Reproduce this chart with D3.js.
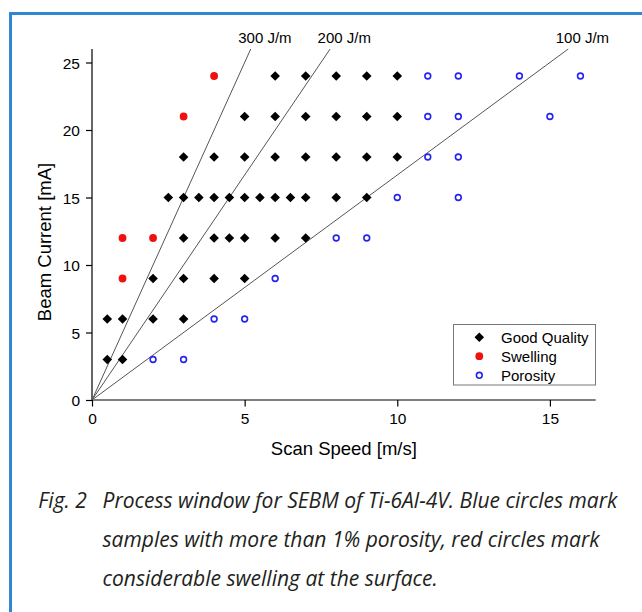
<!DOCTYPE html>
<html>
<head>
<meta charset="utf-8">
<script src="https://cdn.jsdelivr.net/npm/d3@7"></script>
<style>
  html, body { margin: 0; padding: 0; background: #fff; }
  svg { display: block; }
</style>
</head>
<body>
<svg id="chart" width="642" height="612"></svg>
<script>
// ---- data ----
const goodSpeed   = [0.5, 1, 0.5, 1, 2, 3, 2, 3, 4, 5, 3, 4, 4.5, 5, 6, 7,
                     2.5, 3, 3.5, 4, 4.5, 5, 5.5, 6, 6.5, 7, 8, 9,
                     3, 4, 5, 6, 7, 8, 9, 10, 5, 6, 7, 8, 9, 10, 6, 7, 8, 9, 10];
const goodCurrent = [3, 3, 6, 6, 6, 6, 9, 9, 9, 9, 12, 12, 12, 12, 12, 12,
                     15, 15, 15, 15, 15, 15, 15, 15, 15, 15, 15, 15,
                     18, 18, 18, 18, 18, 18, 18, 18, 21, 21, 21, 21, 21, 21, 24, 24, 24, 24, 24];
const swellSpeed   = [1, 1, 2, 3, 4];
const swellCurrent = [9, 12, 12, 21, 24];
const poroSpeed   = [2, 3, 4, 5, 6, 8, 9, 10, 12, 11, 12, 11, 12, 15, 11, 12, 14, 16];
const poroCurrent = [3, 3, 6, 6, 9, 12, 12, 15, 15, 18, 18, 21, 21, 21, 24, 24, 24, 24];
const lineEnergies = [300, 200, 100];          // J/m
const lineLabels   = ["300 J/m", "200 J/m", "100 J/m"];
const beamVoltageKV = 60;                       // I[mA] = E * v / U
const xMajorTicks = [0, 5, 10, 15];
const yMajorTicks = [0, 5, 10, 15, 20, 25];
const xDomain = [0, 16.5];
const yDomain = [0, 26];
const legendLabels = ["Good Quality", "Swelling", "Porosity"];
const captionLines = [
  "Process window for SEBM of Ti-6Al-4V. Blue circles mark",
  "samples with more than 1% porosity, red circles mark",
  "considerable swelling at the surface."
];
const captionTag = "Fig. 2";

// ---- layout ----
const svg = d3.select("#chart");
const FONT = "'Liberation Sans', Arial, Helvetica, sans-serif";
const x = d3.scaleLinear().domain(xDomain).range([92, 595.7]);
const y = d3.scaleLinear().domain(yDomain).range([400, 49]);

// frame
svg.append("rect")
  .attr("x", 10.5).attr("y", 13.5).attr("width", 800).attr("height", 800)
  .attr("fill", "none").attr("stroke", "#3088d4").attr("stroke-width", 3);

// axes
const gx = svg.append("g").attr("transform", `translate(0,${y(0)})`);
gx.call(d3.axisBottom(x).tickValues(d3.range(0, 17, 1)).tickSize(4).tickFormat(""))
  .call(g => g.select(".domain").remove());
gx.call(d3.axisBottom(x).tickValues(xMajorTicks).tickSize(6.5).tickPadding(6).tickFormat(d3.format("d")));
const gy = svg.append("g").attr("transform", `translate(${x(0)},0)`);
gy.call(d3.axisLeft(y).tickValues(d3.range(0, 27, 1)).tickSize(3.5).tickFormat(""))
  .call(g => g.select(".domain").remove());
gy.call(d3.axisLeft(y).tickValues(yMajorTicks).tickSize(6).tickPadding(6).tickFormat(d3.format("d")));
svg.selectAll(".tick line, .domain").attr("stroke", "#000").attr("stroke-width", 1.2);
gx.attr("font-family", FONT).attr("font-size", 15.5);
gy.attr("font-family", FONT).attr("font-size", 15.5);
gx.selectAll("text").attr("fill", "#000");
gy.selectAll("text").attr("fill", "#000").attr("dy", "0.36em");
gx.select(".domain").attr("d", `M${x(xDomain[0])},0H${x(xDomain[1])}`);
gy.select(".domain").attr("d", `M0,${y(yDomain[0])}V${y(yDomain[1])}`);

// axis titles
svg.append("text").attr("x", (x(xDomain[0]) + x(xDomain[1])) / 2).attr("y", 455)
  .attr("text-anchor", "middle").attr("font-family", FONT).attr("font-size", 18.5)
  .attr("fill", "#000").text("Scan Speed [m/s]");
svg.append("text").attr("transform", "translate(51,242) rotate(-90)")
  .attr("text-anchor", "middle").attr("font-family", FONT).attr("font-size", 18.5)
  .attr("fill", "#000").text("Beam Current [mA]");

// energy lines
lineEnergies.forEach((E, i) => {
  const slope = E / beamVoltageKV;           // mA per (m/s)
  let vEnd = yDomain[1] / slope, iEnd = yDomain[1];
  if (vEnd > xDomain[1]) { vEnd = xDomain[1]; iEnd = slope * vEnd; }
  svg.append("line")
    .attr("x1", x(0)).attr("y1", y(0)).attr("x2", x(vEnd)).attr("y2", y(iEnd))
    .attr("stroke", "#555").attr("stroke-width", 1);
  svg.append("text").attr("x", x(vEnd) - 12.5).attr("y", 42.7)
    .attr("font-family", FONT).attr("font-size", 15).attr("fill", "#000")
    .text(lineLabels[i]);
});

// markers
const diamond = "M0,-4.8L4.8,0L0,4.8L-4.8,0Z";
const gGood = svg.append("g");
goodSpeed.forEach((v, i) => {
  gGood.append("path").attr("d", diamond)
    .attr("transform", `translate(${x(v)},${y(goodCurrent[i])})`).attr("fill", "#000");
});
swellSpeed.forEach((v, i) => {
  svg.append("circle").attr("cx", x(v)).attr("cy", y(swellCurrent[i])).attr("r", 3.9)
    .attr("fill", "#f01010");
});
poroSpeed.forEach((v, i) => {
  svg.append("circle").attr("cx", x(v)).attr("cy", y(poroCurrent[i])).attr("r", 2.9)
    .attr("fill", "none").attr("stroke", "#2424f0").attr("stroke-width", 1.6);
});

// legend
const lg = svg.append("g");
lg.append("rect").attr("x", 453.5).attr("y", 324.5).attr("width", 142).attr("height", 60.5)
  .attr("fill", "#fff").attr("stroke", "#777").attr("stroke-width", 1);
const rowsY = [337.3, 356.2, 375.3];
lg.append("path").attr("d", diamond).attr("transform", `translate(479.3,${rowsY[0]})`).attr("fill", "#000");
lg.append("circle").attr("cx", 479.3).attr("cy", rowsY[1]).attr("r", 3.9).attr("fill", "#f01010");
lg.append("circle").attr("cx", 479.3).attr("cy", rowsY[2]).attr("r", 2.9)
  .attr("fill", "none").attr("stroke", "#2424f0").attr("stroke-width", 1.6);
legendLabels.forEach((t, i) => {
  lg.append("text").attr("x", 501).attr("y", rowsY[i] + 5.3)
    .attr("font-family", FONT).attr("font-size", 15).attr("fill", "#000").text(t);
});

// caption
const CAP_FONT = "'Open Sans', 'Noto Sans', sans-serif";
const capBase = [508, 547, 586];
const tag = svg.append("text").attr("x", 38.3).attr("y", capBase[0])
  .attr("font-family", CAP_FONT).attr("font-style", "italic").attr("font-size", 20)
  .attr("fill", "#231f20").text(captionTag);
const capTexts = captionLines.map((t, i) =>
  svg.append("text").attr("x", 102.5).attr("y", capBase[i])
    .attr("font-family", CAP_FONT).attr("font-style", "italic").attr("font-size", 20)
    .attr("fill", "#231f20").text(t));
const w0 = capTexts[0].node().getComputedTextLength();
const fs = 20 * 515 / w0;
capTexts.forEach(t => t.attr("font-size", fs));
tag.attr("font-size", fs);
</script>
</body>
</html>
